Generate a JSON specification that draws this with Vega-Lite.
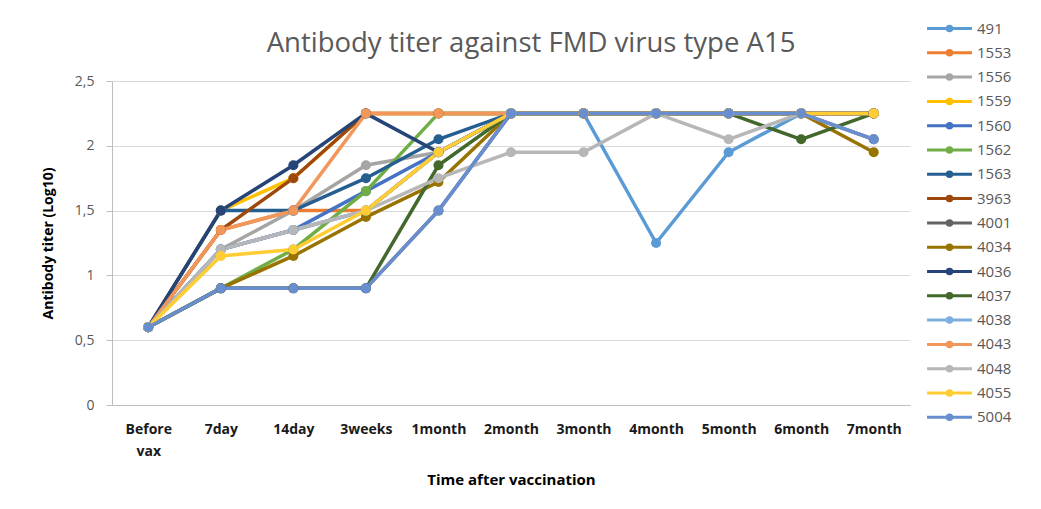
{
  "$schema": "https://vega.github.io/schema/vega-lite/v6.json",
  "autosize": {"type": "none"},
  "padding": {"left": 112, "top": 81, "right": 131, "bottom": 104},
  "width": 798,
  "height": 324,
  "background": "white",
  "title": {
    "text": "Antibody titer against FMD virus type A15",
    "font": "Open Sans",
    "fontSize": 27.5,
    "fontWeight": "normal",
    "color": "#595959",
    "anchor": "middle",
    "dx": 20,
    "dy": 62,
    "offset": 26
  },
  "config": {
    "view": {"stroke": null},
    "font": "Open Sans"
  },
  "data": {
    "values": [
      {"s":"491","t":"Before vax","v":0.6},{"s":"491","t":"7day","v":1.2},{"s":"491","t":"14day","v":1.35},{"s":"491","t":"3weeks","v":1.5},{"s":"491","t":"1month","v":1.95},{"s":"491","t":"2month","v":2.25},{"s":"491","t":"3month","v":2.25},{"s":"491","t":"4month","v":1.25},{"s":"491","t":"5month","v":1.95},{"s":"491","t":"6month","v":2.25},{"s":"491","t":"7month","v":2.05},
      {"s":"1553","t":"Before vax","v":0.6},{"s":"1553","t":"7day","v":1.35},{"s":"1553","t":"14day","v":1.5},{"s":"1553","t":"3weeks","v":1.5},{"s":"1553","t":"1month","v":1.95},{"s":"1553","t":"2month","v":2.25},{"s":"1553","t":"3month","v":2.25},{"s":"1553","t":"4month","v":2.25},{"s":"1553","t":"5month","v":2.25},{"s":"1553","t":"6month","v":2.25},{"s":"1553","t":"7month","v":2.25},
      {"s":"1556","t":"Before vax","v":0.6},{"s":"1556","t":"7day","v":1.2},{"s":"1556","t":"14day","v":1.5},{"s":"1556","t":"3weeks","v":1.85},{"s":"1556","t":"1month","v":1.95},{"s":"1556","t":"2month","v":2.25},{"s":"1556","t":"3month","v":2.25},{"s":"1556","t":"4month","v":2.25},{"s":"1556","t":"5month","v":2.25},{"s":"1556","t":"6month","v":2.25},{"s":"1556","t":"7month","v":2.25},
      {"s":"1559","t":"Before vax","v":0.6},{"s":"1559","t":"7day","v":1.5},{"s":"1559","t":"14day","v":1.75},{"s":"1559","t":"3weeks","v":2.25},{"s":"1559","t":"1month","v":2.25},{"s":"1559","t":"2month","v":2.25},{"s":"1559","t":"3month","v":2.25},{"s":"1559","t":"4month","v":2.25},{"s":"1559","t":"5month","v":2.25},{"s":"1559","t":"6month","v":2.25},{"s":"1559","t":"7month","v":2.25},
      {"s":"1560","t":"Before vax","v":0.6},{"s":"1560","t":"7day","v":1.2},{"s":"1560","t":"14day","v":1.35},{"s":"1560","t":"3weeks","v":1.65},{"s":"1560","t":"1month","v":1.95},{"s":"1560","t":"2month","v":2.25},{"s":"1560","t":"3month","v":2.25},{"s":"1560","t":"4month","v":2.25},{"s":"1560","t":"5month","v":2.25},{"s":"1560","t":"6month","v":2.25},{"s":"1560","t":"7month","v":2.25},
      {"s":"1562","t":"Before vax","v":0.6},{"s":"1562","t":"7day","v":0.9},{"s":"1562","t":"14day","v":1.2},{"s":"1562","t":"3weeks","v":1.65},{"s":"1562","t":"1month","v":2.25},{"s":"1562","t":"2month","v":2.25},{"s":"1562","t":"3month","v":2.25},{"s":"1562","t":"4month","v":2.25},{"s":"1562","t":"5month","v":2.25},{"s":"1562","t":"6month","v":2.25},{"s":"1562","t":"7month","v":2.25},
      {"s":"1563","t":"Before vax","v":0.6},{"s":"1563","t":"7day","v":1.5},{"s":"1563","t":"14day","v":1.5},{"s":"1563","t":"3weeks","v":1.75},{"s":"1563","t":"1month","v":2.05},{"s":"1563","t":"2month","v":2.25},{"s":"1563","t":"3month","v":2.25},{"s":"1563","t":"4month","v":2.25},{"s":"1563","t":"5month","v":2.25},{"s":"1563","t":"6month","v":2.25},{"s":"1563","t":"7month","v":2.25},
      {"s":"3963","t":"Before vax","v":0.6},{"s":"3963","t":"7day","v":1.35},{"s":"3963","t":"14day","v":1.75},{"s":"3963","t":"3weeks","v":2.25},{"s":"3963","t":"1month","v":2.25},{"s":"3963","t":"2month","v":2.25},{"s":"3963","t":"3month","v":2.25},{"s":"3963","t":"4month","v":2.25},{"s":"3963","t":"5month","v":2.25},{"s":"3963","t":"6month","v":2.25},{"s":"3963","t":"7month","v":2.25},
      {"s":"4001","t":"Before vax","v":0.6},{"s":"4001","t":"7day","v":0.9},{"s":"4001","t":"14day","v":0.9},{"s":"4001","t":"3weeks","v":0.9},{"s":"4001","t":"1month","v":1.5},{"s":"4001","t":"2month","v":2.25},{"s":"4001","t":"3month","v":2.25},{"s":"4001","t":"4month","v":2.25},{"s":"4001","t":"5month","v":2.25},{"s":"4001","t":"6month","v":2.25},{"s":"4001","t":"7month","v":2.05},
      {"s":"4034","t":"Before vax","v":0.6},{"s":"4034","t":"7day","v":0.9},{"s":"4034","t":"14day","v":1.15},{"s":"4034","t":"3weeks","v":1.45},{"s":"4034","t":"1month","v":1.72},{"s":"4034","t":"2month","v":2.25},{"s":"4034","t":"3month","v":2.25},{"s":"4034","t":"4month","v":2.25},{"s":"4034","t":"5month","v":2.25},{"s":"4034","t":"6month","v":2.25},{"s":"4034","t":"7month","v":1.95},
      {"s":"4036","t":"Before vax","v":0.6},{"s":"4036","t":"7day","v":1.5},{"s":"4036","t":"14day","v":1.85},{"s":"4036","t":"3weeks","v":2.25},{"s":"4036","t":"1month","v":1.95},{"s":"4036","t":"2month","v":2.25},{"s":"4036","t":"3month","v":2.25},{"s":"4036","t":"4month","v":2.25},{"s":"4036","t":"5month","v":2.25},{"s":"4036","t":"6month","v":2.25},{"s":"4036","t":"7month","v":2.25},
      {"s":"4037","t":"Before vax","v":0.6},{"s":"4037","t":"7day","v":0.9},{"s":"4037","t":"14day","v":0.9},{"s":"4037","t":"3weeks","v":0.9},{"s":"4037","t":"1month","v":1.85},{"s":"4037","t":"2month","v":2.25},{"s":"4037","t":"3month","v":2.25},{"s":"4037","t":"4month","v":2.25},{"s":"4037","t":"5month","v":2.25},{"s":"4037","t":"6month","v":2.05},{"s":"4037","t":"7month","v":2.25},
      {"s":"4038","t":"Before vax","v":0.6},{"s":"4038","t":"7day","v":1.2},{"s":"4038","t":"14day","v":1.35},{"s":"4038","t":"3weeks","v":1.5},{"s":"4038","t":"1month","v":1.95},{"s":"4038","t":"2month","v":2.25},{"s":"4038","t":"3month","v":2.25},{"s":"4038","t":"4month","v":2.25},{"s":"4038","t":"5month","v":2.25},{"s":"4038","t":"6month","v":2.25},{"s":"4038","t":"7month","v":2.25},
      {"s":"4043","t":"Before vax","v":0.6},{"s":"4043","t":"7day","v":1.35},{"s":"4043","t":"14day","v":1.5},{"s":"4043","t":"3weeks","v":2.25},{"s":"4043","t":"1month","v":2.25},{"s":"4043","t":"2month","v":2.25},{"s":"4043","t":"3month","v":2.25},{"s":"4043","t":"4month","v":2.25},{"s":"4043","t":"5month","v":2.25},{"s":"4043","t":"6month","v":2.25},{"s":"4043","t":"7month","v":2.25},
      {"s":"4048","t":"Before vax","v":0.6},{"s":"4048","t":"7day","v":1.2},{"s":"4048","t":"14day","v":1.35},{"s":"4048","t":"3weeks","v":1.5},{"s":"4048","t":"1month","v":1.75},{"s":"4048","t":"2month","v":1.95},{"s":"4048","t":"3month","v":1.95},{"s":"4048","t":"4month","v":2.25},{"s":"4048","t":"5month","v":2.05},{"s":"4048","t":"6month","v":2.25},{"s":"4048","t":"7month","v":2.05},
      {"s":"4055","t":"Before vax","v":0.6},{"s":"4055","t":"7day","v":1.15},{"s":"4055","t":"14day","v":1.2},{"s":"4055","t":"3weeks","v":1.5},{"s":"4055","t":"1month","v":1.95},{"s":"4055","t":"2month","v":2.25},{"s":"4055","t":"3month","v":2.25},{"s":"4055","t":"4month","v":2.25},{"s":"4055","t":"5month","v":2.25},{"s":"4055","t":"6month","v":2.25},{"s":"4055","t":"7month","v":2.25},
      {"s":"5004","t":"Before vax","v":0.6},{"s":"5004","t":"7day","v":0.9},{"s":"5004","t":"14day","v":0.9},{"s":"5004","t":"3weeks","v":0.9},{"s":"5004","t":"1month","v":1.5},{"s":"5004","t":"2month","v":2.25},{"s":"5004","t":"3month","v":2.25},{"s":"5004","t":"4month","v":2.25},{"s":"5004","t":"5month","v":2.25},{"s":"5004","t":"6month","v":2.25},{"s":"5004","t":"7month","v":2.05}
    ]
  },
  "mark": {"type": "line", "strokeWidth": 3.5, "point": {"filled": true, "size": 100}},
  "encoding": {
    "x": {
      "field": "t",
      "type": "ordinal",
      "scale": {"type": "point", "padding": 0.5, "domain": ["Before vax","7day","14day","3weeks","1month","2month","3month","4month","5month","6month","7month"]},
      "axis": {
        "title": "Time after vaccination",
        "titleFont": "Open Sans",
        "titleFontSize": 15,
        "titleFontWeight": "bold",
        "titleColor": "#000000",
        "titlePadding": 14,
        "labelAngle": 0,
        "labelFont": "Open Sans",
        "labelFontSize": 14,
        "labelFontWeight": "bold",
        "labelColor": "#1a1a1a",
        "labelPadding": 17,
        "labelLineHeight": 22,
        "labelExpr": "datum.label == 'Before vax' ? ['Before', 'vax'] : datum.label",
        "ticks": false,
        "domainColor": "#BFBFBF",
        "domainWidth": 1,
        "grid": false
      }
    },
    "y": {
      "field": "v",
      "type": "quantitative",
      "scale": {"domain": [0, 2.5], "nice": false},
      "axis": {
        "title": "Antibody titer (Log10)",
        "titleFont": "Open Sans",
        "titleFontSize": 14,
        "titleFontWeight": "bold",
        "titleColor": "#000000",
        "titlePadding": 19,
        "values": [0, 0.5, 1, 1.5, 2, 2.5],
        "format": ".1~f",
        "labelExpr": "replace(datum.label, '.', ',')",
        "labelFont": "Open Sans",
        "labelFontSize": 14,
        "labelColor": "#595959",
        "labelPadding": 12,
        "tickSize": 6,
        "tickColor": "#BFBFBF",
        "domainColor": "#BFBFBF",
        "gridColor": "#D9D9D9",
        "gridWidth": 1
      }
    },
    "color": {
      "field": "s",
      "type": "nominal",
      "scale": {
        "domain": ["491","1553","1556","1559","1560","1562","1563","3963","4001","4034","4036","4037","4038","4043","4048","4055","5004"],
        "range": ["#5B9BD5","#ED7D31","#A5A5A5","#FFC000","#4472C4","#70AD47","#255E91","#9E480E","#636363","#997300","#264478","#43682B","#7CAFDD","#F1975A","#B7B7B7","#FFCD33","#698ED0"]
      },
      "legend": {
        "title": null,
        "orient": "none",
        "legendX": 830,
        "legendY": -60,
        "symbolType": "M-4,0H4M0.4,0A0.4,0.4,0,1,1,-0.4,0A0.4,0.4,0,1,1,0.4,0",
        "symbolSize": 126,
        "symbolStrokeWidth": 3,
        "labelOffset": 20,
        "labelFont": "Open Sans",
        "labelFontSize": 15,
        "labelColor": "#595959",
        "rowPadding": 7.3
      }
    }
  }
}
